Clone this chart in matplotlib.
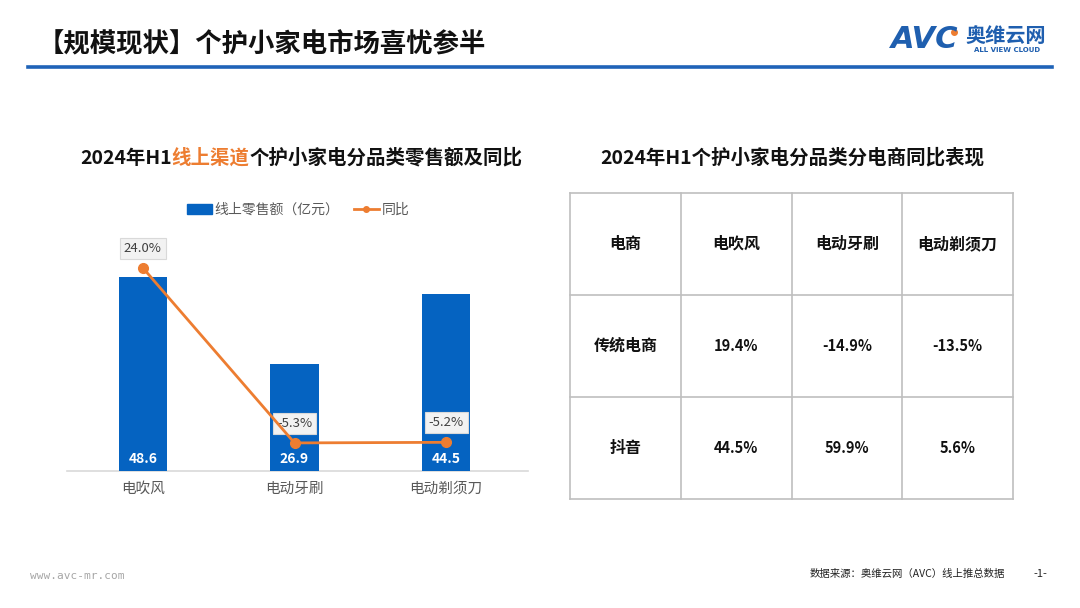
import matplotlib
matplotlib.use("Agg")
import matplotlib.pyplot as plt
from matplotlib.lines import Line2D
from matplotlib.patches import Patch

plt.rcParams["font.family"] = ["Noto Sans CJK SC", "DejaVu Sans"]

# data
categories = ["电吹风", "电动牙刷", "电动剃须刀"]
sales = [48.6, 26.9, 44.5]          # 线上零售额（亿元）
yoy = [24.0, -5.3, -5.2]            # 同比 %

table_cols = ["电商", "电吹风", "电动牙刷", "电动剃须刀"]
table_rows = ["传统电商", "抖音"]
table_vals = [["19.4%", "-14.9%", "-13.5%"],
              ["44.5%", "59.9%", "5.6%"]]

BLUE = "#0563C1"
ORANGE = "#ED7D31"
W, H = 1080, 608

fig = plt.figure(figsize=(W / 100, H / 100), dpi=100)


def fx(px):
    return px / W


def fy(py):
    return 1 - py / H


# header
fig.text(fx(38), fy(45), "【规模现状】个护小家电市场喜忧参半", fontsize=19,
         fontweight="bold", va="center", ha="left", color="#111111")
fig.add_artist(Line2D([fx(28), fx(1052)], [fy(67), fy(67)], color="#1F63B8", lw=2.6))
fig.text(fx(891), fy(40), "AVC", fontsize=22, fontweight="bold", fontstyle="italic",
         color="#1F5FAF", va="center", ha="left", family="DejaVu Sans")
fig.add_artist(Line2D([fx(954)], [fy(32)], marker="o", markersize=4, color=ORANGE))
fig.text(fx(965), fy(36), "奥维云网", fontsize=14.5, fontweight="bold",
         color="#1F5FAF", va="center", ha="left")
fig.text(fx(1007), fy(50), "ALL VIEW CLOUD", fontsize=5, fontweight="bold",
         color="#1F5FAF", va="center", ha="center", family="DejaVu Sans")

# left chart title (mixed colours)
t1 = fig.text(fx(80), fy(158), "2024年H1", fontsize=14, fontweight="bold",
              va="center", ha="left", color="#111111")
fig.canvas.draw()
r = fig.canvas.get_renderer()
x = t1.get_window_extent(r).x1
t2 = fig.text(x / W, fy(158), "线上渠道", fontsize=14, fontweight="bold",
              va="center", ha="left", color=ORANGE)
x = t2.get_window_extent(r).x1
fig.text(x / W, fy(158), "个护小家电分品类零售额及同比", fontsize=14,
         fontweight="bold", va="center", ha="left", color="#111111")

# bar + line chart
ax = fig.add_axes([fx(67), fy(471), (522 - 67) / W, (471 - 232) / H])
xs = list(range(len(categories)))
ax.bar(xs, sales, width=0.32, color=BLUE, zorder=2)
ax.set_xlim(-0.5, 2.5)
ax.set_ylim(0, 60)
ax.set_yticks([])
for s in ["top", "right", "left", "bottom"]:
    ax.spines[s].set_visible(False)
ax.plot([-0.5, 2.54], [0, 0], color="#d9d9d9", lw=1.2, clip_on=False, zorder=1)
ax.set_xticks(xs)
ax.set_xticklabels(categories, fontsize=10.5, color="#595959")
ax.tick_params(axis="x", length=0, pad=8)
for xi, v in zip(xs, sales):
    ax.text(xi, 3, f"{v:.1f}", color="white", fontsize=10, fontweight="bold",
            ha="center", va="center", zorder=3)

ax2 = ax.twinx()
ax2.set_ylim(-10, 30)
ax2.set_yticks([])
for s in ax2.spines.values():
    s.set_visible(False)
ax2.plot(xs, yoy, color=ORANGE, lw=2, marker="o", markersize=7, zorder=4)
for xi, v in zip(xs, yoy):
    ax2.annotate(f"{v:.1f}%", (xi, v), xytext=(0, 14), textcoords="offset points",
                 ha="center", va="center", fontsize=9.5, color="#404040",
                 bbox=dict(boxstyle="square,pad=0.3", fc="#f2f2f2", ec="#d9d9d9", lw=0.8))

handles = [Patch(color=BLUE), Line2D([0], [0], color=ORANGE, lw=2, marker="o", markersize=4)]
fig.legend(handles, ["线上零售额（亿元）", "同比"], loc="center", ncol=2,
           bbox_to_anchor=(fx(298), fy(210)), frameon=False, fontsize=10,
           labelcolor="#595959", handlelength=1.8, handletextpad=0.2, columnspacing=1.0)

# right table
fig.text(fx(792), fy(158), "2024年H1个护小家电分品类分电商同比表现", fontsize=14,
         fontweight="bold", va="center", ha="center", color="#111111")
tx = fig.add_axes([fx(570), fy(499), (1013 - 570) / W, (499 - 193) / H])
tx.set_xlim(0, 4)
tx.set_ylim(3, 0)
tx.axis("off")
for i in range(5):
    tx.plot([i, i], [0, 3], color="#bfbfbf", lw=1.2, clip_on=False)
for j in range(4):
    tx.plot([0, 4], [j, j], color="#bfbfbf", lw=1.2, clip_on=False)
for i, c in enumerate(table_cols):
    tx.text(i + 0.5, 0.5, c, ha="center", va="center", fontsize=11.5,
            fontweight="bold", color="#111111")
for j, rname in enumerate(table_rows):
    tx.text(0.5, j + 1.5, rname, ha="center", va="center", fontsize=11.5,
            fontweight="bold", color="#111111")
    for i, v in enumerate(table_vals[j]):
        tx.text(i + 1.5, j + 1.5, v, ha="center", va="center", fontsize=10.5,
                fontweight="bold", color="#111111")

# footer
fig.text(fx(30), fy(576), "www.avc-mr.com", fontsize=8, color="#a6a6a6",
         va="center", ha="left", family="DejaVu Sans Mono")
fig.text(fx(1005), fy(574), "数据来源：奥维云网（AVC）线上推总数据", fontsize=7.5,
         color="#222222", va="center", ha="right")
fig.text(fx(1040), fy(574), "-1-", fontsize=8, color="#222222", va="center", ha="center")

fig.savefig("out.png", dpi=100)
